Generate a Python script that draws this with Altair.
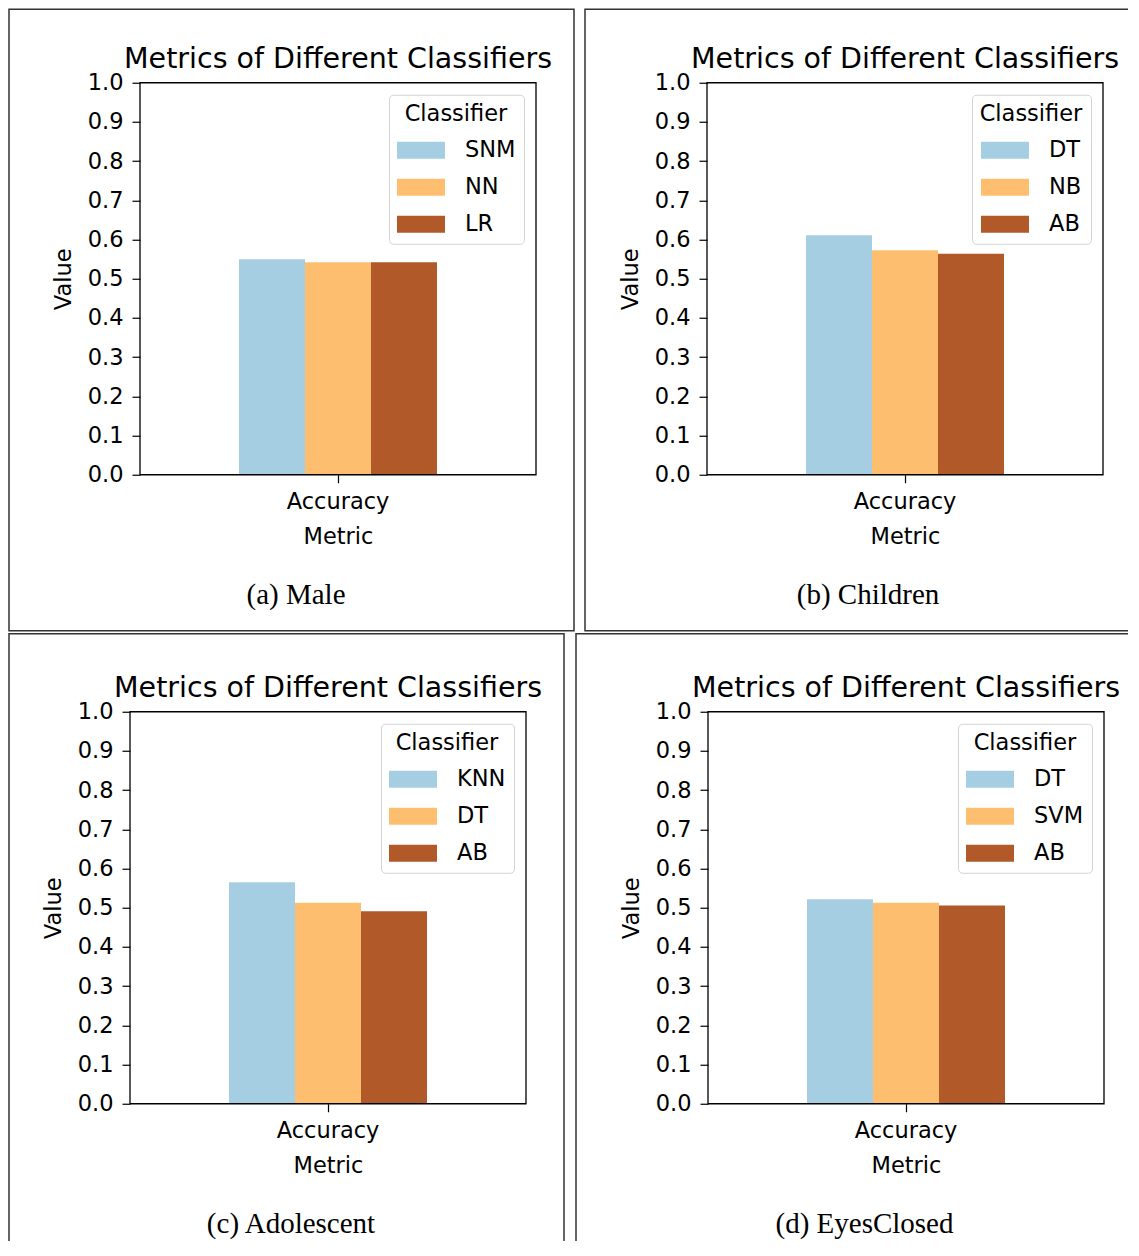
import altair as alt
import pandas as pd

# ---- data ----
metric = ["Accuracy"]
chart_title = "Metrics of Different Classifiers"
captions = ["(a) Male", "(b) Children", "(c) Adolescent", "(d) EyesClosed"]
classifiers_a = ["SNM", "NN", "LR"]
values_a = [0.550, 0.542, 0.542]
classifiers_b = ["DT", "NB", "AB"]
values_b = [0.611, 0.573, 0.564]
classifiers_c = ["KNN", "DT", "AB"]
values_c = [0.565, 0.513, 0.491]
classifiers_d = ["DT", "SVM", "AB"]
values_d = [0.522, 0.513, 0.506]
y_ticks = [0.0, 0.1, 0.2, 0.3, 0.4, 0.5, 0.6, 0.7, 0.8, 0.9, 1.0]
COLORS = ["#a6cee3", "#fdbf6f", "#b15928"]

FONT = "DejaVu Sans"
FS = 22.5
W, H = 396, 392
RECT_PATH = "M-1,-0.354L1,-0.354L1,0.354L-1,0.354Z"


def panel(classifiers, values, caption, dx, frame, cap_xy, spacer=None):
    df = pd.DataFrame({
        "Metric": metric * len(classifiers),
        "Classifier": classifiers,
        "Value": values,
    })
    one = alt.Data(values=[{"k": 1}])
    fl, fr, ft, fb = frame
    layers = []
    if spacer is not None:
        layers.append(
            alt.Chart(one).mark_rule(opacity=0, strokeWidth=1.5).encode(
                x=alt.value(dx + spacer), y=alt.value(0), y2=alt.value(H)
            )
        )
    frame_layer = alt.Chart(one).mark_rect(
        fillOpacity=0, stroke="#333333", strokeWidth=1.5
    ).encode(
        x=alt.value(dx + fl), x2=alt.value(dx + fr),
        y=alt.value(ft), y2=alt.value(fb)
    )
    bars = alt.Chart(df).mark_bar(strokeWidth=0).encode(
        x=alt.X(
            "Metric:N",
            title="Metric",
            scale=alt.Scale(range=[dx, dx + W], paddingInner=0,
                            paddingOuter=0.5),
            axis=alt.Axis(labelAngle=0, labelPadding=8, titlePadding=12),
        ),
        xOffset=alt.XOffset(
            "Classifier:N", sort=classifiers,
            scale=alt.Scale(paddingInner=0, paddingOuter=0),
        ),
        y=alt.Y(
            "Value:Q",
            title="Value",
            scale=alt.Scale(domain=[0, 1], nice=False, zero=True),
            axis=alt.Axis(values=y_ticks, format=".1f", labelPadding=9,
                          titlePadding=12, offset=-dx),
        ),
        color=alt.Color(
            "Classifier:N",
            sort=classifiers,
            scale=alt.Scale(domain=classifiers, range=COLORS),
            legend=alt.Legend(
                title="Classifier",
                orient="top-right",
                offset=12,
                symbolType=RECT_PATH,
                symbolSize=2304,
                symbolStrokeWidth=0,
                symbolOpacity=1,
                labelFont=FONT,
                labelFontSize=FS,
                labelColor="black",
                labelOffset=20,
                titleFont=FONT,
                titleFontSize=FS,
                titleFontWeight="normal",
                titleColor="black",
                titleAnchor="middle",
                titlePadding=1,
                padding=8,
                rowPadding=1,
                strokeColor="#d4d4d4",
                cornerRadius=4,
                fillColor="white",
            ),
        ),
    )
    border = alt.Chart(one).mark_rect(
        fillOpacity=0, stroke="black", strokeWidth=1.3
    ).encode(
        x=alt.value(dx), x2=alt.value(dx + W), y=alt.value(0), y2=alt.value(H)
    )
    title = alt.Chart(one).mark_text(
        font=FONT, fontSize=28.5, color="black", align="center",
        baseline="alphabetic"
    ).encode(
        text=alt.value(chart_title), x=alt.value(dx + W / 2), y=alt.value(-15)
    )
    cap = alt.Chart(one).mark_text(
        font="Liberation Serif", fontSize=29, color="black",
        align="center", baseline="middle"
    ).encode(
        text=alt.value(caption), x=alt.value(dx + cap_xy[0]),
        y=alt.value(cap_xy[1])
    )
    layers += [frame_layer, bars, border, title, cap]
    return alt.layer(*layers).properties(width=dx + W, height=H)


pa = panel(classifiers_a, values_a, captions[0], 10, (-131, 434, -73.5, 548), (156, 512))
pb = panel(classifiers_b, values_b, captions[1], 0, (-122, 440, -73.5, 548), (161, 512),
           spacer=-132)
pc = panel(classifiers_c, values_c, captions[2], 0, (-121, 434, -78, 560), (161, 512))
pd_ = panel(classifiers_d, values_d, captions[3], 0, (-132, 440, -78, 560), (156.5, 512))

chart = alt.concat(
    pa, pb, pc, pd_, columns=2, spacing={"row": 1, "column": 0}
).properties(
    align="none", bounds="full",
    padding={"left": 0, "top": -0.25, "right": -21, "bottom": -31.5},
).resolve_scale(
    x="independent", y="independent", color="independent",
    xOffset="independent"
).resolve_legend(color="independent").resolve_axis(
    x="independent", y="independent"
).configure_view(
    strokeWidth=0
).configure_axis(
    labelFont=FONT, titleFont=FONT, labelFontSize=FS, titleFontSize=FS,
    titleFontWeight="normal", labelColor="black", titleColor="black",
    tickColor="black", tickSize=8, tickWidth=1.2, domain=False, grid=False,
    zindex=1,
)

chart.save("out.html", embed_options={"renderer": "svg", "actions": False})
